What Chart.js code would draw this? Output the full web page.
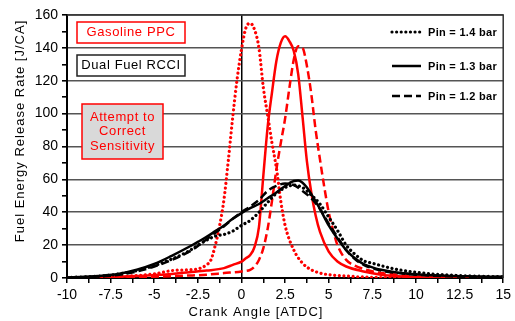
<!DOCTYPE html>
<html>
<head>
<meta charset="utf-8">
<script src="https://cdn.jsdelivr.net/npm/chart.js@4.4.0/dist/chart.umd.min.js"></script>
<style>
  html, body { margin: 0; padding: 0; background: #fff; }
  #wrap { width: 515px; height: 321px; }
</style>
</head>
<body>
<div id="wrap"><canvas id="hrrChart" width="515" height="321"></canvas></div>
<script>
'use strict';

/* --- Data (crank angle in deg ATDC, rate in J/CA) --- */
const xTicks = [-10, -7.5, -5, -2.5, 0, 2.5, 5, 7.5, 10, 12.5, 15];
const yTicks = [0, 20, 40, 60, 80, 100, 120, 140, 160];

// Dual Fuel RCCI
const rcci13Angle = [-10, -9, -8, -7, -6, -5, -4, -3, -2.5, -2, -1.5, -1, -0.5, 0, 0.5, 1, 1.5, 2, 2.5, 3, 3.25, 3.5, 3.75, 4, 4.5, 5, 5.5, 6, 6.5, 7, 7.5, 8, 9, 10, 11, 12, 13, 14, 15];
const rcci13Rate  = [0.3, 0.7, 1.4, 2.6, 5, 8.5, 13.5, 19, 22, 25, 28.5, 32, 36, 39.5, 42.5, 45, 48.5, 52, 56, 59, 59.3, 58, 55, 51, 42, 32, 24, 17, 12, 8.5, 6.5, 5, 3.2, 2.3, 1.6, 1.2, 1, 0.8, 0.7];

const rcci12Angle = [-10, -9, -8, -7, -6, -5, -4, -3, -2.5, -2, -1.5, -1, -0.5, 0, 0.5, 1, 1.5, 2, 2.5, 3, 3.5, 4, 4.5, 5, 5.5, 6, 6.5, 7, 8, 9, 10, 12, 15];
const rcci12Rate  = [0.2, 0.5, 1, 2, 4, 7, 11, 16, 19.5, 23.5, 27.5, 31.5, 36, 40, 43.5, 47.5, 53, 56, 57.5, 56.5, 53, 48.5, 42, 33, 25, 17, 11.5, 8, 4.5, 3, 2, 1, 0.6];

const rcci14Angle = [-10, -9, -8, -7, -6, -5, -4, -3, -2.5, -2, -1.5, -1, -0.5, 0, 0.5, 1, 1.5, 2, 2.5, 3, 3.5, 4, 4.5, 5, 5.5, 6, 6.5, 7, 7.5, 8, 9, 10, 11, 12, 13, 14, 15];
const rcci14Rate  = [0.3, 0.7, 1.2, 2.5, 4.5, 7.5, 11.5, 16.5, 20, 23, 25.5, 26.5, 28.5, 32, 35, 40, 46, 51.5, 55, 56.5, 55, 50.5, 45, 37, 29, 20, 14.5, 10.5, 9, 7.5, 5, 3.5, 2.4, 1.8, 1.3, 1, 0.8];

// Gasoline PPC
const ppc14Angle = [-10, -8, -7, -6, -5, -4.5, -4, -3, -2.5, -2, -1.75, -1.5, -1.25, -1, -0.75, -0.5, -0.25, 0, 0.25, 0.5, 0.75, 1, 1.25, 1.5, 1.75, 2, 2.25, 2.5, 3, 3.5, 4, 4.5, 5, 6, 7, 8, 10, 15];
const ppc14Rate  = [0, 0.3, 0.8, 1.5, 2.5, 3.5, 4.5, 5, 5.5, 8, 11, 20, 32, 48, 72, 98, 121, 139, 152, 155, 151, 140, 116, 99, 82, 67, 47, 32, 17, 9, 5, 3, 2, 1.2, 0.6, 0.3, 0.1, 0];

const ppc13Angle = [-10, -8, -6, -5, -4, -3, -2, -1, -0.5, 0, 0.25, 0.5, 0.75, 1, 1.25, 1.5, 1.75, 2, 2.25, 2.5, 2.75, 3, 3.25, 3.5, 3.75, 4, 4.25, 4.5, 5, 5.5, 6, 7, 8, 9, 10, 12, 15];
const ppc13Rate  = [0, 0.5, 1.2, 1.8, 2.5, 3.5, 4.5, 6, 8, 10, 12, 14, 19, 31, 62, 92, 113, 132, 143, 147, 144, 138, 124, 98, 71, 52, 38, 28, 16, 10, 7, 4, 2, 1, 0.5, 0.2, 0];

const ppc12Angle = [-10, -7, -5, -3, -2, -1, 0, 0.5, 0.75, 1, 1.25, 1.5, 1.75, 2, 2.25, 2.5, 2.75, 3, 3.25, 3.5, 3.75, 4, 4.25, 4.5, 4.75, 5, 5.25, 5.5, 6, 6.5, 7, 8, 9, 10, 12, 15];
const ppc12Rate  = [0, 0.3, 0.8, 1.5, 2, 3, 4, 5, 7, 11, 18, 30, 47, 66, 82, 97, 116, 133, 141, 140, 129, 112, 90, 72, 55, 40, 29, 20, 11, 7.5, 5.5, 3, 2, 1, 0.3, 0];

const legendLabels = ['Pin = 1.4 bar', 'Pin = 1.3 bar', 'Pin = 1.2 bar'];

const RED = '#ff0000';
const BLACK = '#000000';
const FONT = '"Liberation Sans", Arial, sans-serif';
const DOTS = [0.01, 4.6];
const DASHES = [8, 4];

function pts(xs, ys) {
  return xs.map((x, i) => ({ x: x, y: ys[i] }));
}

function series(label, xs, ys, color, dash) {
  const dotted = dash === DOTS;
  return {
    label: label,
    data: pts(xs, ys),
    borderColor: color,
    backgroundColor: color,
    borderWidth: dotted ? 3.2 : 2.5,
    borderDash: dash || [],
    borderCapStyle: dotted ? 'round' : 'butt',
    pointRadius: 0,
    fill: false,
    cubicInterpolationMode: 'monotone'
  };
}

/* --- Annotations: boxes, legend, axis titles, frame --- */
const overlayPlugin = {
  id: 'overlay',
  afterDraw(chart) {
    const ctx = chart.ctx;
    const a = chart.chartArea;
    ctx.save();

    // plot frame (top / right)
    ctx.strokeStyle = '#333';
    ctx.lineWidth = 1.5;
    ctx.beginPath();
    ctx.moveTo(a.left, a.top);
    ctx.lineTo(a.right, a.top);
    ctx.lineTo(a.right, a.bottom);
    ctx.stroke();

    // text boxes
    function box(x, y, w, h, stroke, fill, color, lines) {
      ctx.fillStyle = fill;
      ctx.fillRect(x, y, w, h);
      ctx.strokeStyle = stroke;
      ctx.lineWidth = 1.5;
      ctx.strokeRect(x, y, w, h);
      ctx.fillStyle = color;
      ctx.font = '13px ' + FONT;
      ctx.letterSpacing = '0.6px';
      ctx.textAlign = 'center';
      ctx.textBaseline = 'middle';
      const lh = 14.5;
      const y0 = y + h / 2 - (lines.length - 1) * lh / 2;
      lines.forEach((t, i) => ctx.fillText(t, x + w / 2, y0 + i * lh));
    }
    box(77, 22, 108, 21, RED, '#fff', RED, ['Gasoline PPC']);
    box(77, 55, 108, 21, '#222', '#fff', BLACK, ['Dual Fuel RCCI']);
    box(82, 104, 81, 55, RED, '#d9d9d9', RED, ['Attempt to', 'Correct', 'Sensitivity']);

    // legend
    const dashes = [DOTS, [], DASHES];
    const rows = [32, 66, 96];
    ctx.letterSpacing = '0.3px';
    legendLabels.forEach((t, i) => {
      ctx.strokeStyle = BLACK;
      ctx.lineWidth = i === 0 ? 3.2 : 2.5;
      ctx.lineCap = i === 0 ? 'round' : 'butt';
      ctx.setLineDash(dashes[i]);
      ctx.beginPath();
      ctx.moveTo(392, rows[i]);
      ctx.lineTo(421, rows[i]);
      ctx.stroke();
      ctx.setLineDash([]);
      ctx.fillStyle = BLACK;
      ctx.font = 'bold 11px ' + FONT;
      ctx.textAlign = 'left';
      ctx.textBaseline = 'middle';
      ctx.fillText(t, 428, rows[i] + 0.5);
    });

    // axis titles
    ctx.font = '13px ' + FONT;
    ctx.letterSpacing = '1px';
    ctx.fillStyle = BLACK;
    ctx.textAlign = 'center';
    ctx.textBaseline = 'middle';
    ctx.fillText('Crank Angle [ATDC]', 256, 312);
    ctx.translate(20, 131);
    ctx.rotate(-Math.PI / 2);
    ctx.fillText('Fuel Energy Release Rate [J/CA]', 0, 0);

    ctx.restore();
  }
};

new Chart(document.getElementById('hrrChart'), {
  type: 'line',
  data: {
    datasets: [
      series('RCCI ' + legendLabels[1], rcci13Angle, rcci13Rate, BLACK),
      series('RCCI ' + legendLabels[2], rcci12Angle, rcci12Rate, BLACK, DASHES),
      series('RCCI ' + legendLabels[0], rcci14Angle, rcci14Rate, BLACK, DOTS),
      series('PPC ' + legendLabels[1], ppc13Angle, ppc13Rate, RED),
      series('PPC ' + legendLabels[2], ppc12Angle, ppc12Rate, RED, DASHES),
      series('PPC ' + legendLabels[0], ppc14Angle, ppc14Rate, RED, DOTS)
    ]
  },
  options: {
    responsive: false,
    animation: false,
    layout: { padding: { top: 15, right: 5, left: 0, bottom: 0 } },
    plugins: { legend: { display: false }, tooltip: { enabled: false } },
    scales: {
      x: {
        type: 'linear',
        min: xTicks[0],
        max: xTicks[xTicks.length - 1],
        afterFit: (s) => { s.height = 43; },
        border: { color: BLACK, width: 2 },
        grid: {
          color: (c) => (c.tick && c.tick.value === 0 ? BLACK : 'rgba(0,0,0,0)'),
          lineWidth: 1.5,
          tickColor: BLACK,
          tickLength: 5
        },
        ticks: {
          stepSize: 1.25,
          padding: 4,
          maxRotation: 0,
          autoSkip: false,
          color: BLACK,
          font: { family: FONT, size: 14 },
          callback: (v) => (xTicks.includes(v) ? String(v) : '')
        }
      },
      y: {
        min: yTicks[0],
        max: yTicks[yTicks.length - 1],
        afterFit: (s) => { s.width = 67; },
        border: { color: BLACK, width: 2 },
        grid: {
          color: (c) => (c.tick && yTicks.includes(c.tick.value) && c.tick.value > 0 ? '#555555' : 'rgba(0,0,0,0)'),
          lineWidth: 1.6,
          tickColor: BLACK,
          tickLength: 5
        },
        ticks: {
          stepSize: 10,
          padding: 4,
          autoSkip: false,
          color: BLACK,
          font: { family: FONT, size: 14 },
          callback: (v) => (yTicks.includes(v) ? String(v) : '')
        }
      }
    }
  },
  plugins: [overlayPlugin]
});
</script>
</body>
</html>
